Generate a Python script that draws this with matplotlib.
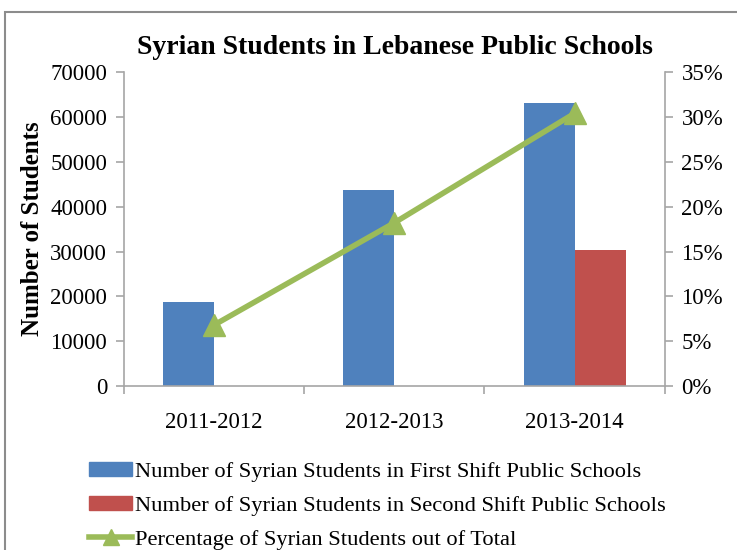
import matplotlib.pyplot as plt
import numpy as np
from matplotlib.patches import Rectangle
from matplotlib.lines import Line2D
from matplotlib.ticker import FuncFormatter

plt.rcParams['font.family'] = ['Liberation Serif', 'DejaVu Serif']

# data
years = ['2011-2012', '2012-2013', '2013-2014']
first_shift = [18700, 43600, 63100]
second_shift = [0, 0, 30400]
pct_syrian = [6.8, 18.2, 30.4]

blue = '#4F81BD'
red = '#C0504D'
green = '#9BBB59'
spine_col = '#A6A6A6'

fig = plt.figure(figsize=(7.37, 5.5), dpi=100)
ax = fig.add_axes([0.168, 0.298, 0.734, 0.571])

x = np.arange(len(years))
w = 0.283
ax.bar(x - w / 2, first_shift, w, color=blue, zorder=2)
ax.bar(x + w / 2, second_shift, w, color=red, zorder=2)

ax.set_xlim(-0.5, 2.5)
ax.set_ylim(0, 70000)
ax.set_yticks(np.arange(0, 70001, 10000))
ax.set_xticks(x)
ax.set_xticklabels(years, fontsize=16.5)
ax.set_xticks([-0.5, 0.5, 1.5, 2.5], minor=True)
ax.tick_params(axis='x', which='major', length=0, pad=19)
ax.tick_params(axis='x', which='minor', length=6, color=spine_col, width=1.2)
ax.tick_params(axis='y', labelsize=16.5, length=6, color=spine_col, width=1.2, pad=6)
for s in ['left', 'bottom', 'right']:
    ax.spines[s].set_color(spine_col)
    ax.spines[s].set_linewidth(1.2)
ax.spines['top'].set_visible(False)
ax.set_ylabel('Number of Students', fontsize=18, fontweight='bold')
ax.yaxis.set_label_coords(-0.148, 0.5)

ax2 = ax.twinx()
ax2.plot(x, pct_syrian, color=green, lw=4, marker='^', markersize=16, zorder=3)
ax2.set_ylim(0, 35)
ax2.set_yticks(np.arange(0, 36, 5))
ax2.yaxis.set_major_formatter(FuncFormatter(lambda v, p: '%d%%' % v))
ax2.tick_params(axis='y', labelsize=16.5, length=6, color=spine_col, width=1.2, pad=6)
for s in ['left', 'bottom', 'right', 'top']:
    ax2.spines[s].set_visible(False)

fig.text(0.536, 0.913, 'Syrian Students in Lebanese Public Schools',
         ha='center', va='center', fontsize=20, fontweight='bold')

# chart frame
fig.patches.append(Rectangle((0.007, -0.05), 1.05, 1.028, transform=fig.transFigure,
                             fill=False, edgecolor='#8C8C8C', lw=1.5))

handles = [Rectangle((0, 0), 1, 1, color=blue),
           Rectangle((0, 0), 1, 1, color=red),
           Line2D([], [], color=green, lw=4, marker='^', markersize=12)]
labels = ['Number of Syrian Students in First Shift Public Schools',
          'Number of Syrian Students in Second Shift Public Schools',
          'Percentage of Syrian Students out of Total']
fig.legend(handles, labels, loc='upper left', bbox_to_anchor=(0.108, 0.177),
           frameon=False, fontsize=16.2, handlelength=1.95, handleheight=0.6,
           handletextpad=0.12, labelspacing=0.62, borderaxespad=0)

fig.savefig('out.png', dpi=100)
